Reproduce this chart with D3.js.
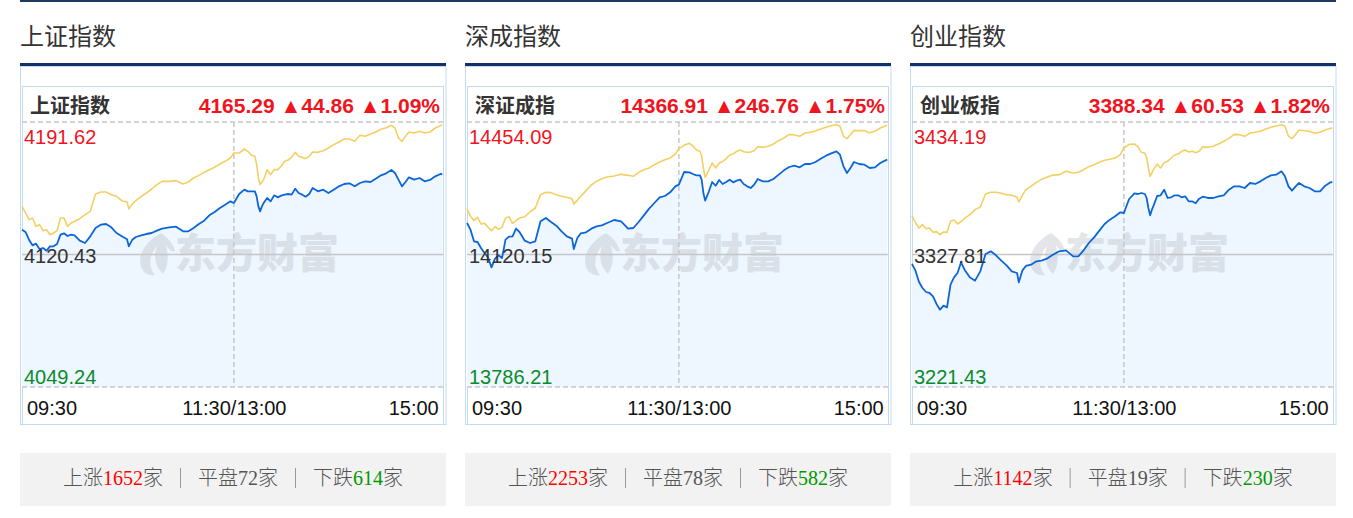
<!DOCTYPE html>
<html><head><meta charset="utf-8">
<script src="https://cdn.jsdelivr.net/npm/d3@7"></script>
<style>
html,body{margin:0;padding:0;background:#fff;}
svg{display:block;}
</style></head><body>
<svg id="chart" width="1353" height="518"></svg>
<script>
// ---------- data ----------
const minutes = [0,2,4,6,8,10,12,14,16,18,20,22,24,26,28,30,33,36,39,42,45,48,51,54,57,60,61,63,65,68,71,74,77,80,84,88,92,95,98,101,104,107,110,113,116,119,121,
124,127,129,131,133,134,135,136,137,138,140,142,144,146,148,150,152,154,156,158,160,162,164,166,169,172,175,178,181,184,187,190,193,196,199,202,205,208,211,213,215,217,219,221,224,227,230,233,236,239,240];

const shPrice = [4133.77,4132.52,4128.40,4125.35,4126.25,4123.38,4123.92,4122.49,4124.82,4124.82,4126.07,4131.08,4131.80,4130.37,4131.08,4130.73,4127.86,4126.61,4130.19,4134.67,4136.46,4136.82,4135.03,4131.98,4130.19,4128.58,4124.82,4128.40,4129.83,4130.73,4131.44,4131.98,4133.23,4134.31,4135.03,4135.38,4132.88,4132.88,4134.67,4136.82,4138.61,4141.47,4143.26,4145.41,4147.20,4148.99,4148.10,
4152.94,4155.26,4154.37,4154.37,4154.37,4151.68,4146.31,4143.62,4146.31,4148.10,4150.79,4148.99,4152.22,4151.14,4152.04,4152.58,4152.94,4152.58,4155.80,4153.47,4152.58,4151.50,4152.94,4156.16,4154.37,4155.26,4153.47,4155.26,4157.05,4158.31,4158.67,4157.05,4158.85,4159.74,4159.38,4161.17,4162.96,4164.04,4165.83,4164.22,4160.64,4157.05,4159.38,4161.89,4160.64,4161.53,4159.74,4160.46,4162.43,4163.68,4163.68];
const shAvg = [4146.31,4142.73,4139.14,4140.04,4135.56,4136.46,4133.23,4133.77,4131.08,4131.98,4133.23,4140.04,4140.04,4135.56,4137.35,4138.25,4139.68,4141.83,4143.62,4152.94,4154.01,4154.01,4152.58,4151.68,4149.35,4148.64,4145.05,4147.56,4149.35,4151.50,4153.47,4155.62,4157.95,4159.74,4159.74,4160.10,4158.31,4159.38,4161.53,4162.96,4164.58,4166.01,4167.26,4169.05,4170.49,4172.28,4174.96,
4174.96,4177.11,4175.86,4173.71,4173.17,4168.70,4161.53,4157.95,4159.38,4160.64,4166.01,4163.32,4166.01,4166.01,4167.80,4170.49,4171.20,4172.64,4175.32,4173.17,4172.64,4171.92,4173.17,4175.50,4175.32,4176.22,4177.65,4179.44,4180.87,4182.49,4182.49,4181.23,4184.46,4183.92,4185.17,4186.25,4187.68,4188.58,4189.83,4188.40,4183.02,4181.23,4183.92,4186.25,4185.71,4186.61,4185.71,4186.25,4188.40,4189.65,4190.19];

const szPrice = [14199.54,14182.74,14153.33,14151.65,14136.53,14123.93,14113.01,14087.81,14109.65,14118.05,14111.33,14157.53,14165.09,14165.93,14185.26,14176.86,14155.01,14149.13,14153.33,14203.74,14212.14,14202.06,14192.82,14178.54,14165.93,14160.05,14134.01,14161.73,14173.50,14176.02,14185.26,14191.14,14193.66,14199.54,14207.10,14203.74,14185.26,14186.94,14202.06,14218.86,14235.66,14249.94,14264.23,14267.59,14276.83,14291.95,14296.15,
14328.07,14327.23,14323.03,14319.67,14319.67,14308.75,14275.15,14255.83,14266.75,14277.67,14302.87,14293.63,14307.91,14297.83,14302.87,14308.75,14302.03,14306.23,14308.75,14297.83,14291.95,14287.75,14296.15,14310.43,14304.55,14304.55,14310.43,14321.35,14332.27,14340.68,14344.04,14339.84,14348.24,14348.24,14353.28,14361.68,14369.24,14375.12,14380.16,14371.76,14342.36,14325.55,14338.15,14353.28,14348.24,14346.56,14338.15,14339.84,14350.76,14357.48,14359.16];
const szAvg = [14235.66,14216.34,14205.42,14213.82,14197.02,14198.70,14188.62,14180.22,14190.30,14183.58,14188.62,14212.14,14215.50,14198.70,14205.42,14212.14,14215.50,14227.26,14237.34,14270.95,14276.83,14275.99,14270.95,14266.75,14264.23,14260.87,14247.42,14256.67,14266.75,14281.03,14295.31,14304.55,14311.27,14315.47,14317.99,14322.19,14319.67,14317.15,14327.23,14333.95,14338.15,14346.56,14353.28,14359.16,14363.36,14373.44,14386.88,
14395.28,14400.32,14393.60,14383.52,14380.16,14367.56,14338.15,14314.63,14323.03,14331.43,14350.76,14338.15,14350.76,14354.12,14361.68,14370.92,14373.44,14380.16,14383.52,14379.32,14377.64,14378.48,14381.84,14391.92,14390.24,14392.76,14398.64,14407.04,14413.76,14423.01,14421.32,14417.96,14426.37,14428.05,14431.41,14436.45,14440.65,14444.85,14447.37,14443.17,14417.96,14412.08,14422.16,14433.09,14432.25,14432.25,14427.21,14430.57,14438.97,14444.85,14445.69];

const cyPrice = [3320.19,3314.84,3305.74,3300.92,3297.71,3296.91,3294.23,3288.08,3283.53,3286.74,3285.40,3303.60,3309.49,3312.97,3321.53,3315.64,3309.49,3306.81,3314.30,3328.22,3330.36,3327.15,3322.87,3319.12,3314.30,3312.97,3305.47,3314.84,3318.59,3319.66,3322.33,3322.87,3324.47,3327.15,3330.36,3331.16,3326.35,3326.35,3331.16,3337.05,3341.60,3346.95,3352.30,3355.78,3358.46,3361.67,3361.13,
3372.37,3376.92,3376.39,3377.19,3376.39,3373.18,3365.15,3359.26,3363.81,3367.29,3374.78,3375.32,3379.87,3373.18,3373.71,3375.32,3375.32,3373.71,3374.51,3370.50,3370.50,3368.89,3372.64,3374.25,3373.18,3373.18,3374.51,3375.32,3379.87,3382.54,3382.54,3381.20,3385.22,3384.42,3386.56,3389.23,3391.37,3391.91,3394.58,3390.57,3382.54,3379.06,3382.27,3385.22,3382.54,3381.20,3378.53,3378.53,3383.08,3385.75,3386.02];
const cyAvg = [3358.99,3353.11,3349.09,3351.77,3348.56,3349.09,3345.61,3346.15,3343.74,3345.88,3345.61,3354.44,3355.51,3352.30,3354.18,3356.85,3359.80,3363.81,3365.95,3376.39,3377.73,3377.73,3376.92,3375.85,3375.32,3373.71,3369.96,3375.32,3379.87,3382.54,3385.75,3388.16,3389.77,3391.37,3391.91,3394.58,3393.25,3393.78,3395.92,3398.33,3399.94,3401.81,3403.41,3404.22,3405.29,3407.96,3413.32,
3416.26,3416.53,3414.39,3409.84,3409.03,3405.82,3397.26,3390.57,3393.25,3396.19,3400.47,3397.26,3401.54,3402.61,3405.29,3407.70,3408.50,3410.64,3411.71,3410.10,3410.64,3409.57,3410.64,3414.39,3413.85,3414.65,3416.53,3418.67,3421.08,3424.29,3424.02,3422.68,3425.36,3425.89,3426.70,3428.57,3429.91,3430.98,3432.05,3430.71,3422.68,3420.81,3424.02,3427.77,3427.23,3426.70,3425.09,3425.89,3427.77,3429.10,3429.37];

const sectionTitles = ["上证指数","深成指数","创业指数"];
const indexNames = ["上证指数","深证成指","创业板指"];
const lastPrices = ["4165.29","14366.91","3388.34"];
const changes = ["44.86","246.76","60.53"];
const changePcts = ["1.09%","1.75%","1.82%"];
const axisHigh = [4191.62,14454.09,3434.19];
const axisMid = [4120.43,14120.15,3327.81];
const axisLow = [4049.24,13786.21,3221.43];
const timeTicks = [0,121,240];
const timeLabels = ["09:30","11:30/13:00","15:00"];
const upCounts = [1652,2253,1142];
const flatCounts = [72,78,19];
const downCounts = [614,582,230];
const priceSeries = [shPrice, szPrice, cyPrice];
const avgSeries = [shAvg, szAvg, cyAvg];

// ---------- drawing ----------
const svg = d3.select("#chart");
const CJK = "'Noto Sans CJK SC','Noto Sans',sans-serif";
const LAT = "'Liberation Sans',Arial,'DejaVu Sans',sans-serif";

svg.append("rect").attr("x",20).attr("y",0).attr("width",1316).attr("height",2).attr("fill","#1d3769");

const PW = 426, STEP = 445;

for (let i = 0; i < 3; i++) {
  const ox = 20 + i*STEP;
  const g = svg.append("g");

  g.append("text").attr("x",ox).attr("y",45)
    .attr("font-family",CJK).attr("font-size",24).attr("fill","#333")
    .text(sectionTitles[i]);

  g.append("rect").attr("x",ox).attr("y",63).attr("width",PW).attr("height",3).attr("fill","#14306a");
  g.append("rect").attr("x",ox+0.5).attr("y",66.5).attr("width",PW-0.5).attr("height",358)
    .attr("fill","#fff").attr("stroke","#c4daef");
  g.append("rect").attr("x",ox+2.5).attr("y",86.5).attr("width",421).attr("height",338)
    .attr("fill","none").attr("stroke","#c4daef");

  g.append("text").attr("x",ox+10).attr("y",113)
    .attr("font-family",CJK).attr("font-weight","bold").attr("font-size",20).attr("fill","#333")
    .text(indexNames[i]);
  g.append("text").attr("x",ox+420).attr("y",113).attr("text-anchor","end")
    .attr("font-family",LAT).attr("font-weight","bold").attr("font-size",21).attr("fill","#f0141e")
    .text(lastPrices[i] + " ▲" + changes[i] + " ▲" + changePcts[i]);

  const x = d3.scaleLinear().domain([0,241]).range([ox+2, ox+424]);
  const y = d3.scaleLinear().domain([axisLow[i], axisHigh[i]]).range([387, 122]);
  const data = minutes.map((m,k)=>({m, p: priceSeries[i][k], a: avgSeries[i][k]}));

  // fill under price
  const area = d3.area().x(d=>x(d.m)).y0(y(axisLow[i])).y1(d=>y(d.p));
  g.append("path").datum(data).attr("d",area).attr("fill","#eef6ff");

  // watermark
  const wm = g.append("g").attr("opacity",0.42);
  wm.append("path")
    .attr("transform",`translate(${ox+117},${233})`)
    .attr("d","M24,0 C9,8 0,22 4,34 C6,40 12,43 18,42 C11,34 12,22 20,13 C16,24 19,34 26,41 C32,32 32,20 28,11 C32,17 36,20 38,18 C36,10 30,4 24,0 Z")
    .attr("fill","#bfc3ca");
  wm.append("text").attr("x",ox+155).attr("y",268)
    .attr("font-family",CJK).attr("font-weight",900).attr("font-size",41)
    .attr("fill","#bfc3ca").text("东方财富");

  // grid lines
  const gl = g.append("g").attr("fill","none");
  [axisHigh[i], axisLow[i]].forEach(v=>{
    gl.append("line").attr("x1",ox+2).attr("x2",ox+423).attr("y1",y(v)).attr("y2",y(v))
      .attr("stroke","#c8c8c8").attr("stroke-width",1.5).attr("stroke-dasharray","5,3");
  });
  gl.append("line").attr("x1",ox+2).attr("x2",ox+423).attr("y1",y(axisMid[i])).attr("y2",y(axisMid[i]))
    .attr("stroke","#c6c6c6").attr("stroke-width",1.5);
  gl.append("line").attr("x1",x(121)).attr("x2",x(121)).attr("y1",y(axisHigh[i])).attr("y2",y(axisLow[i]))
    .attr("stroke","#c8c8c8").attr("stroke-width",1.5).attr("stroke-dasharray","5,3");

  // lines
  const lineA = d3.line().x(d=>x(d.m)).y(d=>y(d.a));
  const lineP = d3.line().x(d=>x(d.m)).y(d=>y(d.p));
  g.append("path").datum(data).attr("d",lineA).attr("fill","none")
    .attr("stroke","#f4d064").attr("stroke-width",1.6).attr("stroke-linejoin","round");
  g.append("path").datum(data).attr("d",lineP).attr("fill","none")
    .attr("stroke","#0b66d8").attr("stroke-width",1.8).attr("stroke-linejoin","round");

  // y axis labels
  const yAxis = d3.axisRight(y).tickValues([axisHigh[i], axisMid[i], axisLow[i]])
    .tickSize(0).tickFormat(d3.format(".2f"));
  const ya = g.append("g").attr("transform",`translate(${ox+2},0)`).call(yAxis);
  ya.select(".domain").remove();
  const yColors = ["#f0141e","#333333","#0a8a2a"];
  const yDy = [21.5, 8, -4];
  ya.selectAll(".tick text")
    .attr("x",2).attr("dy",(d,k)=>yDy[k]).attr("fill",(d,k)=>yColors[k])
    .attr("font-family",LAT).attr("font-size",20);

  // x axis labels
  const xAxis = d3.axisBottom(x).tickValues(timeTicks).tickSize(0)
    .tickFormat((d,k)=>timeLabels[k]);
  const xa = g.append("g").attr("transform","translate(0,414.5)").call(xAxis);
  xa.select(".domain").remove();
  const anchors = ["start","middle","end"];
  const dxs = [4.5, 0, -4];
  xa.selectAll(".tick text")
    .attr("y",0).attr("dy",0).attr("dx",(d,k)=>dxs[k])
    .attr("text-anchor",(d,k)=>anchors[k])
    .attr("fill","#111").attr("font-family",LAT).attr("font-size",20);

  // stats box
  g.append("rect").attr("x",ox).attr("y",453).attr("width",PW).attr("height",53).attr("fill","#f2f2f2");
  const items = [
    {lab:"上涨", n:upCounts[i], c:"#ff0000"},
    {lab:"平盘", n:flatCounts[i], c:"#555"},
    {lab:"下跌", n:downCounts[i], c:"#009900"}
  ];
  const SF = "'Liberation Serif','Noto Sans CJK SC',serif";
  const texts = items.map(it=>{
    const t = g.append("text").attr("y",485).attr("font-family",SF).attr("font-size",20).attr("fill","#555");
    t.append("tspan").attr("font-family",CJK).attr("font-weight",300).text(it.lab);
    t.append("tspan").attr("fill",it.c).text(it.n);
    t.append("tspan").attr("font-family",CJK).attr("font-weight",300).text("家");
    return t;
  });
  const widths = texts.map(t=>t.node().getComputedTextLength());
  const gap = 17.5;
  const total = widths.reduce((a,b)=>a+b,0) + 4*gap;
  let cx = ox + PW/2 - total/2;
  texts.forEach((t,k)=>{
    t.attr("x",cx);
    cx += widths[k];
    if (k < 2) {
      g.append("line").attr("x1",cx+gap).attr("x2",cx+gap).attr("y1",468).attr("y2",488)
        .attr("stroke","#999").attr("stroke-width",1);
      cx += 2*gap;
    }
  });
}
</script>
</body></html>
